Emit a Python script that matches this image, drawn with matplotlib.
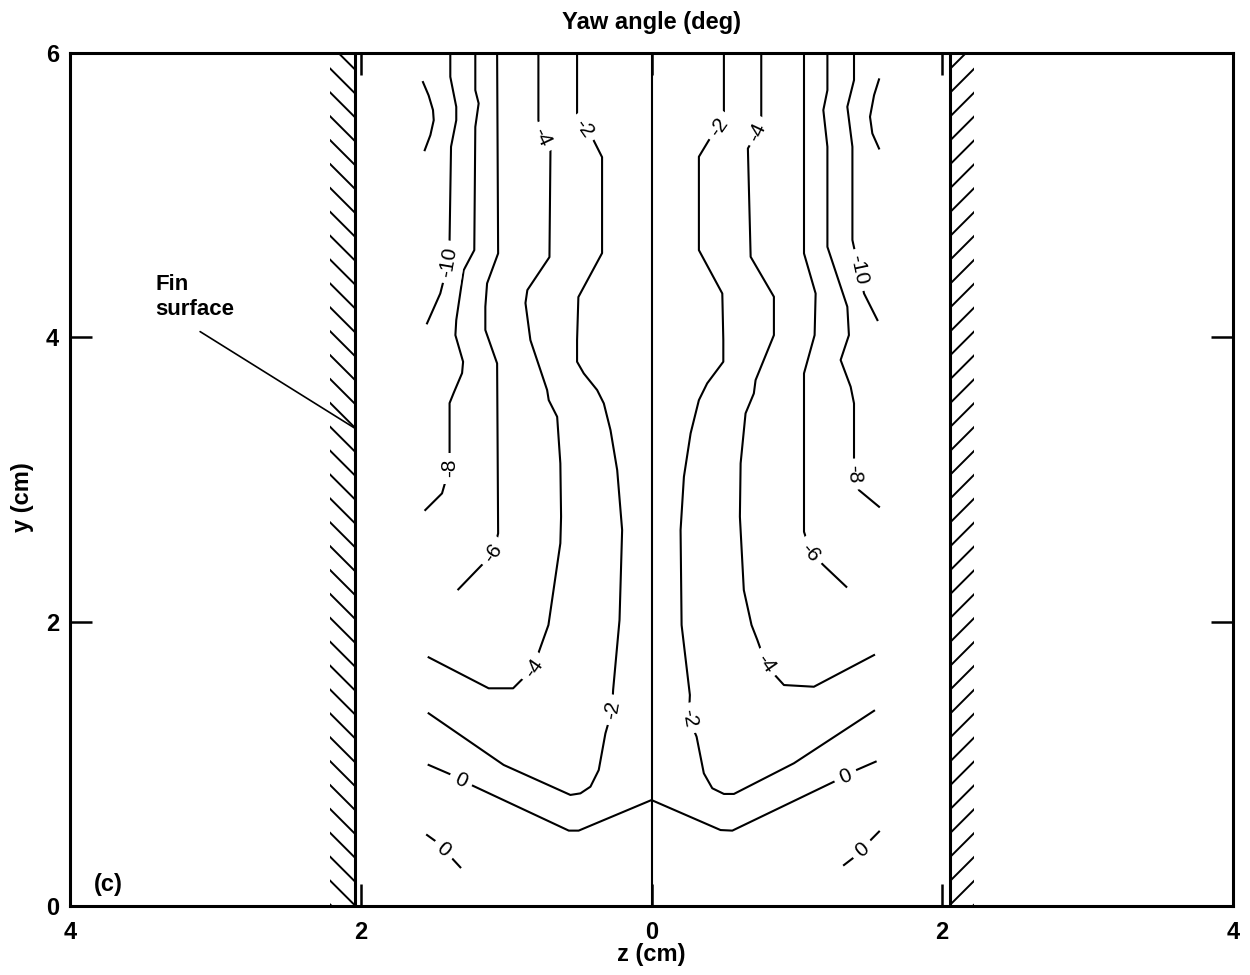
import numpy as np
import matplotlib
matplotlib.use('Agg')
import matplotlib.pyplot as plt
from matplotlib.patches import Rectangle

plt.rcParams['font.family'] = ['Liberation Sans', 'DejaVu Sans']

# ---------------- axes / ticks ----------------
x_ticks = [-4, -2, 0, 2, 4]
x_tick_labels = ['4', '2', '0', '2', '4']
y_ticks = [0, 2, 4, 6]
y_tick_labels = ['0', '2', '4', '6']

fin_left_z = -2.04
fin_right_z = 2.05
fin_hatch_width = 0.17

# ---------------- contour lines (z, y) ----------------
left_tip_z = [-1.572, -1.533, -1.503, -1.498, -1.521, -1.560]
left_tip_y = [5.795, 5.701, 5.598, 5.527, 5.422, 5.316]

left_m10_z = [-1.384, -1.384, -1.343, -1.343, -1.379, -1.389, -1.398, -1.453, -1.544]
left_m10_y = [6.0, 5.832, 5.621, 5.527, 5.340, 4.684, 4.529, 4.308, 4.098]

left_m8_z = [-1.212, -1.212, -1.189, -1.212, -1.219, -1.292, -1.343, -1.349, -1.296,
             -1.303, -1.361, -1.389, -1.389, -1.391, -1.441, -1.556]
left_m8_y = [6.0, 5.738, 5.645, 5.480, 4.613, 4.472, 4.121, 4.015, 3.828,
             3.748, 3.608, 3.537, 3.186, 3.080, 2.902, 2.785]

left_m6_z = [-1.062, -1.055, -1.131, -1.143, -1.143, -1.062, -1.055, -1.088, -1.212, -1.329]
left_m6_y = [6.0, 4.590, 4.379, 4.215, 4.051, 3.816, 2.621, 2.482, 2.351, 2.227]

left_m4_z = [-0.778, -0.778, -0.750, -0.695, -0.702, -0.854, -0.867, -0.833, -0.718, -0.707,
             -0.649, -0.627, -0.622, -0.627, -0.709, -0.787, -0.812, -0.952, -1.120, -1.533]
left_m4_y = [6.0, 5.527, 5.408, 5.316, 4.564, 4.332, 4.241, 3.980, 3.629, 3.558,
             3.441, 3.113, 2.738, 2.551, 1.976, 1.753, 1.674, 1.531, 1.531, 1.749]

left_m2_z = [-0.512, -0.512, -0.468, -0.399, -0.340, -0.340, -0.503, -0.512, -0.512, -0.466,
             -0.374, -0.328, -0.282, -0.236, -0.202, -0.220, -0.264, -0.271, -0.317, -0.363,
             -0.420, -0.489, -0.558, -1.017, -1.533]
left_m2_y = [6.0, 5.563, 5.471, 5.387, 5.267, 4.592, 4.283, 3.980, 3.828, 3.746,
             3.629, 3.535, 3.347, 3.066, 2.644, 2.011, 1.519, 1.378, 1.214, 0.956,
             0.839, 0.792, 0.781, 0.992, 1.355]

zero_upper_z = [-1.533, -1.372, -1.310, -1.265, -0.569, -0.501, 0.0,
                0.475, 0.556, 1.255, 1.336, 1.382, 1.542]
zero_upper_y = [0.992, 0.921, 0.886, 0.863, 0.530, 0.530, 0.745,
                0.534, 0.530, 0.874, 0.909, 0.944, 1.015]

left_zero_low_z = [-1.544, -1.480, -1.430, -1.372, -1.315]
left_zero_low_y = [0.499, 0.452, 0.394, 0.335, 0.272]
right_zero_low_z = [1.324, 1.393, 1.451, 1.508, 1.565]
right_zero_low_y = [0.288, 0.342, 0.394, 0.464, 0.523]

right_m2_z = [0.498, 0.498, 0.463, 0.395, 0.326, 0.326, 0.487, 0.494, 0.494, 0.383,
              0.326, 0.269, 0.223, 0.200, 0.207, 0.264, 0.257, 0.310, 0.360, 0.418,
              0.498, 0.567, 0.980, 1.531]
right_m2_y = [6.0, 5.586, 5.480, 5.387, 5.270, 4.613, 4.308, 3.980, 3.828, 3.676,
              3.558, 3.324, 3.019, 2.644, 1.976, 1.484, 1.320, 1.191, 0.933, 0.828,
              0.788, 0.788, 1.004, 1.373]

right_m4_z = [0.755, 0.755, 0.728, 0.663, 0.682, 0.842, 0.842, 0.716, 0.704, 0.647,
              0.613, 0.608, 0.635, 0.688, 0.728, 0.785, 0.838, 0.911, 1.117, 1.531]
right_m4_y = [6.0, 5.515, 5.445, 5.328, 4.566, 4.285, 4.015, 3.699, 3.605, 3.465,
              3.113, 2.738, 2.222, 1.976, 1.871, 1.707, 1.636, 1.554, 1.542, 1.765]

right_m6_z = [1.049, 1.049, 1.129, 1.122, 1.049, 1.049, 1.095, 1.182, 1.340]
right_m6_y = [6.0, 4.590, 4.308, 4.015, 3.746, 2.632, 2.489, 2.398, 2.245]

right_m8_z = [1.210, 1.210, 1.182, 1.210, 1.210, 1.347, 1.358, 1.301, 1.370, 1.393,
              1.393, 1.393, 1.427, 1.565]
right_m8_y = [6.0, 5.738, 5.598, 5.340, 4.636, 4.215, 4.015, 3.840, 3.652, 3.535,
              3.160, 3.038, 2.925, 2.808]

right_m10_z = [1.393, 1.393, 1.347, 1.382, 1.382, 1.427, 1.462, 1.554]
right_m10_y = [6.0, 5.809, 5.621, 5.340, 4.684, 4.473, 4.308, 4.121]

right_tip_z = [1.565, 1.531, 1.503, 1.519, 1.565]
right_tip_y = [5.814, 5.703, 5.551, 5.434, 5.328]

center_z = [0.0, 0.0]
center_y = [0.0, 6.0]

# ---------------- contour labels ----------------
label_text = ['-10', '-8', '-6', '-4', '-2', '-4', '-2', '0', '0',
              '-10', '-8', '-6', '-4', '-2', '-4', '-2', '0', '0']
label_z = [-1.398, -1.391, -1.088, -0.750, -0.468, -0.812, -0.271, -1.310, -1.430,
           1.427, 1.393, 1.095, 0.728, 0.463, 0.785, 0.257, 1.336, 1.451]
label_y = [4.529, 3.080, 2.482, 5.408, 5.471, 1.674, 1.378, 0.886, 0.394,
           4.473, 3.038, 2.489, 5.445, 5.480, 1.707, 1.320, 0.909, 0.394]
label_rot = [80, 90, 55, -65, -55, 55, 80, -25, -40,
             -78, -88, -50, 65, 55, -55, -80, 23, 40]

# ---------------- figure ----------------
fig = plt.figure(figsize=(12.5, 9.75), dpi=100)
ax = fig.add_axes([0.056, 0.0708, 0.9304, 0.8749])
ax.set_xlim(-4, 4)
ax.set_ylim(0, 6)

lw = 1.5
lines = [
    (left_tip_z, left_tip_y), (left_m10_z, left_m10_y), (left_m8_z, left_m8_y),
    (left_m6_z, left_m6_y), (left_m4_z, left_m4_y), (left_m2_z, left_m2_y),
    (zero_upper_z, zero_upper_y), (left_zero_low_z, left_zero_low_y),
    (right_zero_low_z, right_zero_low_y), (right_m2_z, right_m2_y),
    (right_m4_z, right_m4_y), (right_m6_z, right_m6_y), (right_m8_z, right_m8_y),
    (right_m10_z, right_m10_y), (right_tip_z, right_tip_y), (center_z, center_y),
]
for zz, yy in lines:
    ax.plot(zz, yy, color='black', lw=lw, solid_joinstyle='round', zorder=2)

for t, zz, yy, r in zip(label_text, label_z, label_y, label_rot):
    ax.text(zz, yy, t, fontsize=15, rotation=r, rotation_mode='anchor',
            ha='center', va='center', zorder=4,
            bbox=dict(boxstyle='square,pad=0.3', facecolor='white', edgecolor='none'))

# fin surfaces with hatching
ax.plot([fin_left_z, fin_left_z], [0, 6], color='black', lw=2.2, zorder=3)
ax.plot([fin_right_z, fin_right_z], [0, 6], color='black', lw=2.2, zorder=3)

sx = 145.25  # px per cm horizontally
sy = 142.2   # px per cm vertically


def hatch(z0, z1, backward):
    rect = Rectangle((z0, 0), z1 - z0, 6, facecolor='none', edgecolor='none')
    ax.add_patch(rect)
    dy = (z1 - z0) * sx / sy
    for y0 in np.arange(-0.5, 6.5, 0.168):
        if backward:
            ln, = ax.plot([z0, z1], [y0 + dy, y0], color='black', lw=1.4, zorder=2)
        else:
            ln, = ax.plot([z0, z1], [y0, y0 + dy], color='black', lw=1.4, zorder=2)
        ln.set_clip_path(rect)


hatch(fin_left_z - fin_hatch_width, fin_left_z, True)
hatch(fin_right_z, fin_right_z + fin_hatch_width, False)

# annotation
ax.annotate('', xy=(fin_left_z, 3.36), xytext=(-3.105, 4.04),
            arrowprops=dict(arrowstyle='-', color='black', lw=1.2, shrinkA=0, shrinkB=0))
ax.text(-3.415, 4.283, 'Fin\nsurface', fontsize=16, fontweight='bold',
        ha='left', va='center', linespacing=1.25)
ax.text(-3.735, 0.148, '(c)', fontsize=17, fontweight='bold', ha='center', va='center')

# ticks and spines
ax.set_xticks(x_ticks)
ax.set_xticklabels(x_tick_labels, fontsize=17, fontweight='bold')
ax.set_yticks(y_ticks)
ax.set_yticklabels(y_tick_labels, fontsize=17, fontweight='bold')
ax.tick_params(axis='x', direction='in', length=16, width=1.8, top=True, pad=11)
ax.tick_params(axis='y', direction='in', length=16, width=1.8, right=True, pad=8)
for s in ax.spines.values():
    s.set_linewidth(2.2)

fig.text(651 / 1250, 1 - 22 / 975, 'Yaw angle (deg)', fontsize=17, fontweight='bold',
         ha='center', va='center')
fig.text(651 / 1250, 1 - 955 / 975, 'z (cm)', fontsize=17, fontweight='bold',
         ha='center', va='center')
fig.text(23 / 1250, 1 - 497 / 975, 'y (cm)', fontsize=17, fontweight='bold',
         ha='center', va='center', rotation=90)

fig.savefig('out.png', dpi=100)
